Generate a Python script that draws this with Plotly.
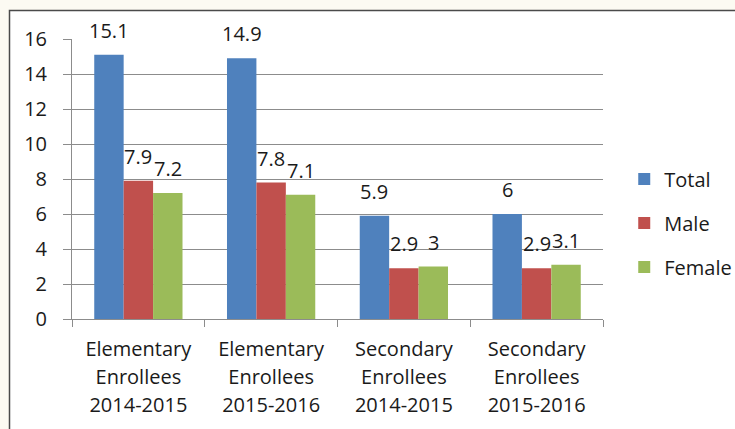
import plotly.graph_objects as go

category_lines = [
    ["Elementary", "Enrollees", "2014-2015"],
    ["Elementary", "Enrollees", "2015-2016"],
    ["Secondary", "Enrollees", "2014-2015"],
    ["Secondary", "Enrollees", "2015-2016"],
]
series_names = ["Total", "Male", "Female"]
total = [15.1, 14.9, 5.9, 6]
male = [7.9, 7.8, 2.9, 2.9]
female = [7.2, 7.1, 3, 3.1]
y_ticks = [0, 2, 4, 6, 8, 10, 12, 14, 16]

colors = ["#4F81BD", "#C0504D", "#9BBB59"]
FONT = "Open Sans"
TXT = "#1a1a1a"
FS = 20
LINE_FS = 21.5  # controls line spacing of the category labels

categories = [
    "<br>".join(f"<span style='font-size:{FS}px'>{w}</span>" for w in lines)
    for lines in category_lines
]

W, H = 735, 429
ML, MR, MT, MB = 72, 132, 39, 110
plot_w = W - ML - MR
plot_h = H - MT - MB
BARGAP = 0.335
bar_px = plot_w / len(categories) * (1 - BARGAP) / 3

fig = go.Figure()
values = [total, male, female]
for name, vals, c in zip(series_names, values, colors):
    fig.add_trace(go.Bar(
        x=categories, y=vals, name=name, marker=dict(color=c, line=dict(width=0)),
        legendgroup=name,
    ))

annotations = []
for i, vals in enumerate(values):
    for cat, v in zip(categories, vals):
        annotations.append(dict(
            x=cat, y=v, xref="x", yref="y", text=f"{v:g}", showarrow=False,
            xshift=(i - 1) * bar_px, yshift=9, yanchor="bottom", xanchor="center",
            font=dict(family=FONT, size=FS, color=TXT),
        ))

# chart border (white area with dark top/left edge)
bx0 = (9.5 - ML) / plot_w
by1 = (H - MB - 10.5) / plot_h
shapes = [dict(type="rect", xref="paper", yref="paper", x0=bx0, x1=1.5, y0=-0.6, y1=by1,
               fillcolor="white", line=dict(color="#4a4a4a", width=1.5), layer="below")]

fig.update_layout(
    width=W, height=H,
    margin=dict(l=ML, r=MR, t=MT, b=MB, pad=0, autoexpand=False),
    paper_bgcolor="#fcfaf2", plot_bgcolor="white",
    barmode="group", bargap=BARGAP, bargroupgap=0,
    font=dict(family=FONT, size=FS, color=TXT),
    showlegend=True,
    legend=dict(x=1.04, xanchor="left", y=0.343, yanchor="middle",
                font=dict(family=FONT, size=FS, color=TXT),
                tracegroupgap=15, bgcolor="rgba(0,0,0,0)", itemwidth=30),
    annotations=annotations,
    shapes=shapes,
)
fig.update_xaxes(
    type="category", showgrid=False, showline=True, linecolor="#8c8c8c", linewidth=1,
    ticks="outside", tickson="boundaries", ticklen=7, tickcolor="#8c8c8c",
    tickfont=dict(family=FONT, size=LINE_FS, color=TXT), ticklabelstandoff=10,
)
fig.update_yaxes(
    range=[0, 16], tickvals=y_ticks, ticktext=[str(t) for t in y_ticks],
    showgrid=True, gridcolor="#8c8c8c", gridwidth=1,
    showline=True, linecolor="#8c8c8c", linewidth=1,
    ticks="outside", ticklen=8, tickcolor="#8c8c8c",
    tickfont=dict(family=FONT, size=FS, color=TXT), ticklabelstandoff=12,
    zeroline=False,
)

fig.write_html("out.html", config={"displayModeBar": False},
               post_script="document.body.style.margin='0';document.body.style.overflow='hidden';")
